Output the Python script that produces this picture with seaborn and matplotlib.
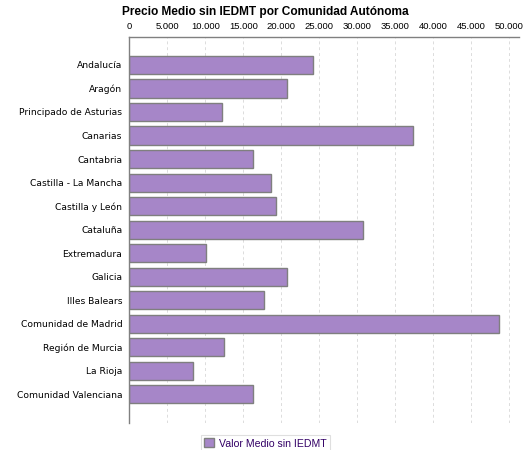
import numpy as np
import pandas as pd
import matplotlib
matplotlib.use("Agg")
import matplotlib.pyplot as plt
import seaborn as sns
from matplotlib.ticker import FuncFormatter

comunidades = ["Andalucía", "Aragón", "Principado de Asturias", "Canarias",
               "Cantabria", "Castilla - La Mancha", "Castilla y León",
               "Cataluña", "Extremadura", "Galicia", "Illes Balears",
               "Comunidad de Madrid", "Región de Murcia", "La Rioja",
               "Comunidad Valenciana"]
valor_medio = [24200, 20800, 12150, 37400, 16250, 18700, 19250, 30700,
               10050, 20700, 17700, 48600, 12400, 8350, 16250]
serie = "Valor Medio sin IEDMT"

df = pd.DataFrame({"Comunidad": comunidades, "Valor": valor_medio})

sns.set_style("white")
plt.rcParams["font.family"] = ["Liberation Sans", "DejaVu Sans"]
plt.rcParams["text.color"] = "black"

fig = plt.figure(figsize=(5.25, 4.5), dpi=100)
ax = fig.add_axes([0.2463, 0.06, 0.7423, 0.8584])

sns.barplot(data=df, x="Valor", y="Comunidad", orient="h", color="#a686c8",
            saturation=1, width=0.77, edgecolor="#7f7f7f", linewidth=1,
            label=serie, ax=ax)

ax.set_xlim(0, 51300)
ax.set_ylim(len(comunidades) - 1 + 1.22, -1.2)
ax.set_xticks(np.arange(0, 50001, 5000))
ax.xaxis.set_major_formatter(FuncFormatter(lambda v, p: f"{int(v):,}".replace(",", ".")))
ax.xaxis.tick_top()
ax.xaxis.set_label_position("top")
ax.set_xlabel("")
ax.set_ylabel("")
ax.tick_params(axis="x", length=0, pad=4, labelsize=6.8, colors="black")
ax.tick_params(axis="y", length=0, pad=5, colors="black")
for lab in ax.get_yticklabels():
    lab.set_family(["DejaVu Sans"])
    lab.set_fontsize(6.6)

ax.grid(axis="x", color="#dcdcdc", linestyle=(0, (3, 3)), linewidth=0.7)
ax.set_axisbelow(True)
for s in ["right", "bottom"]:
    ax.spines[s].set_visible(False)
for s in ["top", "left"]:
    ax.spines[s].set_color("#808080")
    ax.spines[s].set_linewidth(1)

fig.text(0.505, 0.986, "Precio Medio sin IEDMT por Comunidad Autónoma",
         ha="center", va="top", fontsize=8.6, fontweight="bold", color="black")

leg = ax.legend(loc="center", bbox_to_anchor=(0.5055, 0.0145),
                bbox_transform=fig.transFigure, frameon=True, fancybox=False,
                fontsize=7.6, handlelength=0.95, handleheight=0.95,
                handletextpad=0.4, borderpad=0.35, labelcolor="#330066")
leg.get_frame().set_edgecolor("#d8d8d8")
leg.get_frame().set_linewidth(0.8)

fig.savefig("out.png", dpi=100)
